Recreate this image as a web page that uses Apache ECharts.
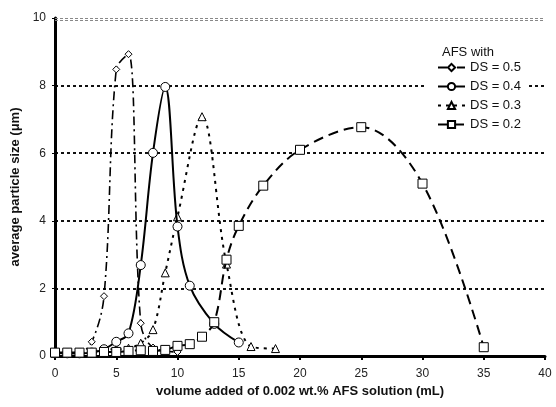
<!DOCTYPE html>
<html>
<head>
<meta charset="utf-8">
<script src="https://cdn.jsdelivr.net/npm/echarts@6/dist/echarts.min.js"></script>
<style>
  html, body { margin: 0; padding: 0; background: #fff; }
  #chart { width: 556px; height: 407px; }
</style>
</head>
<body>
<div id="chart"></div>
<script>
// values
var ds05X = [0, 1, 2, 3, 4, 5, 6, 7, 8, 10];
var ds05Y = [0.08, 0.08, 0.1, 0.42, 1.77, 8.48, 8.93, 0.97, 0.25, 0.12];

var ds04X = [0, 1, 2, 3, 4, 5, 6, 7, 8, 9, 10, 11, 13, 15];
var ds04Y = [0.08, 0.08, 0.08, 0.1, 0.2, 0.42, 0.67, 2.69, 6.01, 7.96, 3.83, 2.08, 0.95, 0.4];

var ds03X = [0, 1, 2, 3, 4, 5, 6, 7, 8, 9, 10, 12, 14, 16, 18];
var ds03Y = [0.08, 0.08, 0.08, 0.1, 0.2, 0.2, 0.23, 0.38, 0.78, 2.46, 4.12, 7.08, 2.72, 0.28, 0.22];

var ds02X = [0, 1, 2, 3, 4, 5, 6, 7, 8, 9, 10, 11, 12, 13, 14, 15, 17, 20, 25, 30, 35];
var ds02Y = [0.1, 0.1, 0.1, 0.1, 0.12, 0.12, 0.15, 0.17, 0.15, 0.18, 0.3, 0.35, 0.57, 1.0, 2.85, 3.85, 5.04, 6.1, 6.77, 5.1, 0.26];

var seriesNames = ['DS = 0.5', 'DS = 0.4', 'DS = 0.3', 'DS = 0.2'];

function pairs(xs, ys) {
    var out = [];
    for (var i = 0; i < xs.length; i++) {
        out.push([xs[i], ys[i]]);
    }
    return out;
}

var font = 'Liberation Sans, Arial, sans-serif';
var markStyle = { color: '#fff', borderColor: '#000', borderWidth: 1 };

var myChart = echarts.init(document.getElementById('chart'));

var option = {
    animation: false,
    backgroundColor: '#fff',
    textStyle: { fontFamily: font },
    title: {
        text: 'AFS with',
        left: 437,
        top: 41,
        textStyle: { fontFamily: font, fontSize: 13, fontWeight: 'normal', color: '#111' }
    },
    legend: {
        orient: 'vertical',
        left: 424,
        top: 59,
        padding: [2, 8, 2, 13],
        backgroundColor: '#fff',
        itemWidth: 27,
        itemHeight: 9,
        itemGap: 6,
        textStyle: { fontFamily: font, fontSize: 13, color: '#111' },
        data: seriesNames
    },
    grid: { left: 55, right: 11, top: 18, bottom: 51, containLabel: false },
    xAxis: {
        type: 'value',
        min: 0,
        max: 40,
        interval: 5,
        name: 'volume added of 0.002 wt.% AFS solution (mL)',
        nameLocation: 'middle',
        nameGap: 25,
        nameTextStyle: { fontFamily: font, fontSize: 13, fontWeight: 'bold', color: '#111' },
        axisLine: { lineStyle: { color: '#000', width: 3 } },
        axisTick: { show: true, length: 4, lineStyle: { color: '#000', width: 2 } },
        axisLabel: { fontFamily: font, fontSize: 12, color: '#222', margin: 12 },
        splitLine: { show: false }
    },
    yAxis: {
        type: 'value',
        min: 0,
        max: 10,
        interval: 2,
        name: 'average particle size (μm)',
        nameLocation: 'middle',
        nameGap: 21,
        nameTextStyle: { fontFamily: font, fontSize: 13, fontWeight: 'bold', color: '#111' },
        axisLine: { show: true, lineStyle: { color: '#000', width: 3 } },
        axisTick: { show: true, length: 3, lineStyle: { color: '#000', width: 1 } },
        axisLabel: { fontFamily: font, fontSize: 12, color: '#222', margin: 9 },
        splitLine: {
            show: true,
            lineStyle: {
                color: ['rgba(0,0,0,0)', '#111', '#111', '#111', '#111', 'rgba(0,0,0,0)'],
                width: 2,
                type: [3, 3]
            }
        }
    },
    series: [
        {
            name: seriesNames[0],
            type: 'line',
            smooth: 0.35,
            data: pairs(ds05X, ds05Y),
            symbol: 'diamond',
            symbolSize: 7,
            itemStyle: markStyle,
            lineStyle: { color: '#000', width: 1.6, type: [9, 4, 2, 4] },
            z: 3,
            markLine: {
                silent: true,
                symbol: 'none',
                label: { show: false },
                lineStyle: { color: '#888', width: 1, type: [3, 2] },
                data: [{ yAxis: 10 }, { yAxis: 9.93 }]
            }
        },
        {
            name: seriesNames[1],
            type: 'line',
            smooth: 0.35,
            data: pairs(ds04X, ds04Y),
            symbol: 'circle',
            symbolSize: 9,
            itemStyle: markStyle,
            lineStyle: { color: '#000', width: 2, type: 'solid' },
            z: 4
        },
        {
            name: seriesNames[2],
            type: 'line',
            smooth: 0.35,
            data: pairs(ds03X, ds03Y),
            symbol: 'triangle',
            symbolSize: 8,
            itemStyle: markStyle,
            lineStyle: { color: '#000', width: 2, type: [3, 5] },
            z: 3
        },
        {
            name: seriesNames[3],
            type: 'line',
            smooth: 0.35,
            data: pairs(ds02X, ds02Y),
            symbol: 'rect',
            symbolSize: 9,
            itemStyle: markStyle,
            lineStyle: { color: '#000', width: 2, type: [10, 6] },
            z: 5
        }
    ]
};

myChart.setOption(option);
</script>
</body>
</html>
